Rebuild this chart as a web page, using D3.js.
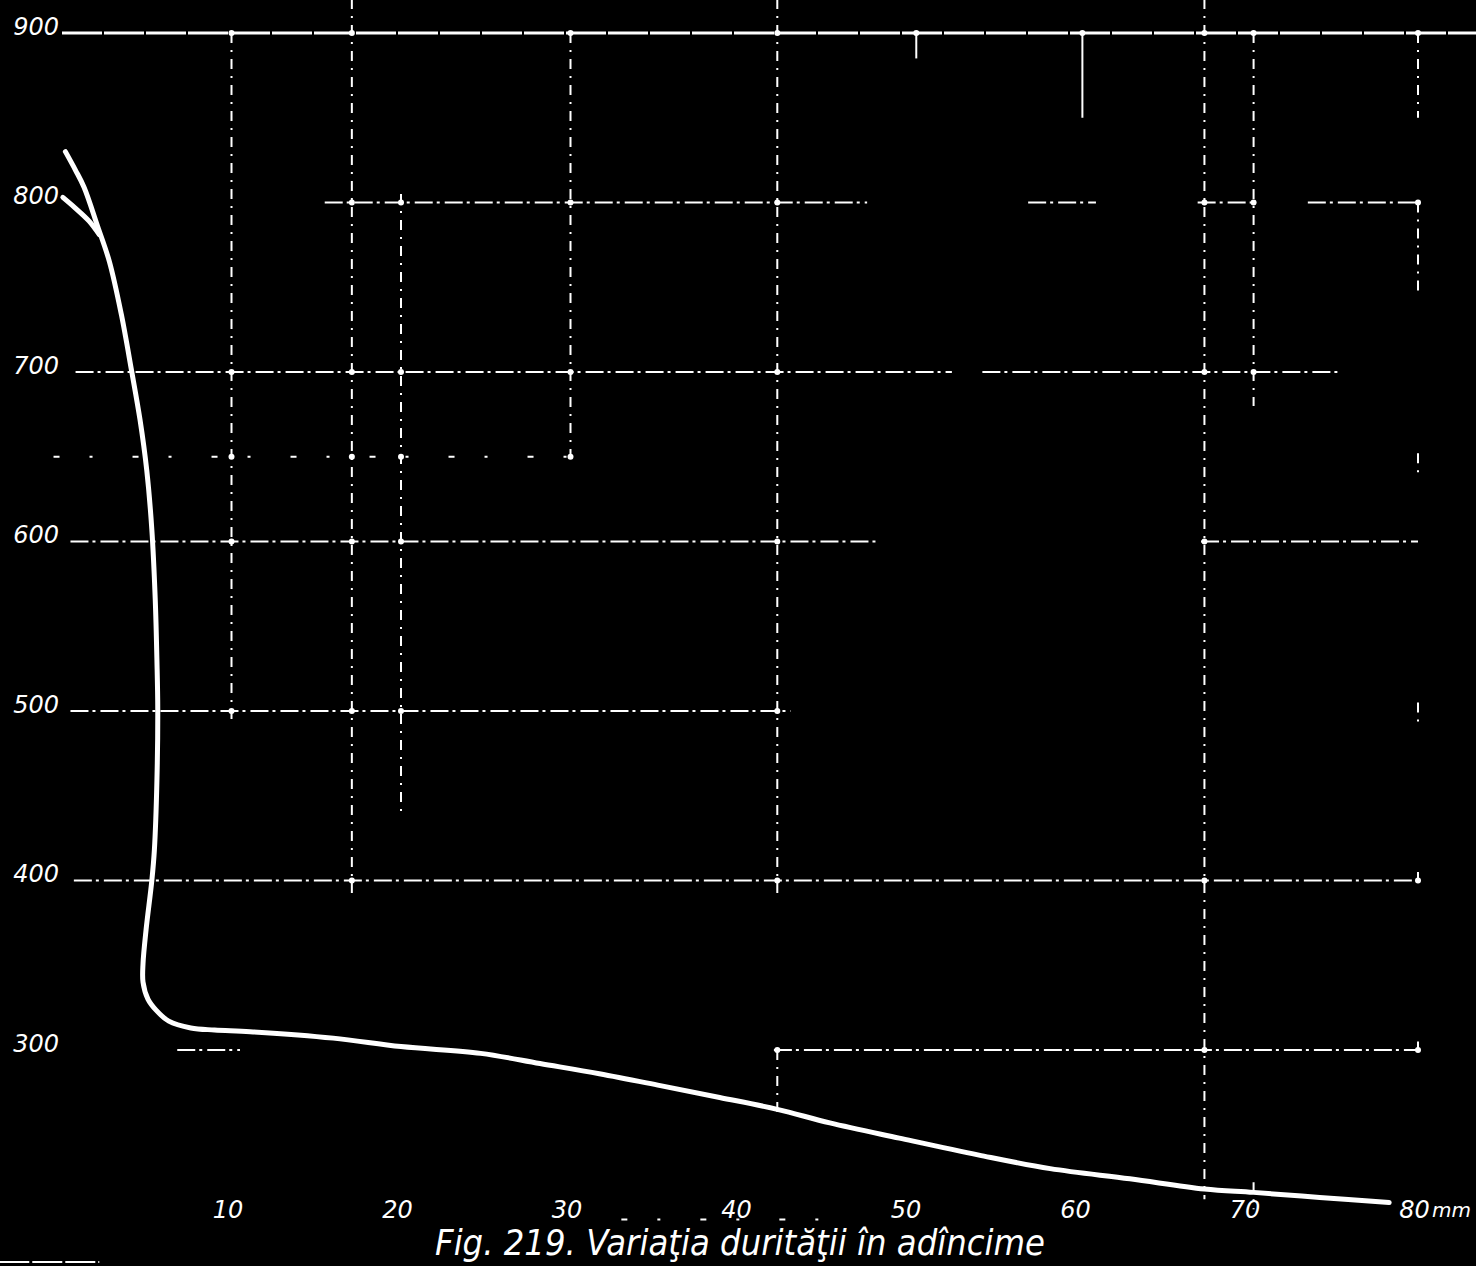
<!DOCTYPE html>
<html>
<head>
<meta charset="utf-8">
<script src="https://cdn.jsdelivr.net/npm/d3@7"></script>
<style>
  html, body { margin: 0; padding: 0; background: #000; }
  svg { display: block; }
  text { fill: #fff; font-family: "DejaVu Sans", sans-serif; font-style: italic; }
</style>
</head>
<body>
<svg id="chart" width="1476" height="1266"></svg>
<script>
// Depth below the surface (mm) and hardness along the main curve
const depthMain = [0.2, 0.8, 1.3, 2.1, 2.8, 3.5, 4.1, 4.6, 5.0, 5.3, 5.5, 5.6, 5.65, 5.6, 5.45, 5.3, 4.96, 4.78, 4.78, 5.07, 5.55, 6.3, 7.6, 9.0, 11.1, 16.0, 20.0, 24.7, 28.2, 31.7, 35.3, 38.8, 42.2, 45.3, 49.4, 54.1, 58.3, 63.0, 67.4, 70.3, 74.2, 78.3];
const hardMain  = [830, 819, 809, 786, 765, 734, 701, 672, 642, 607, 566, 530, 501, 459, 418, 400, 371, 351, 340, 330, 323.5, 317, 313, 311.8, 310.8, 307, 302, 298, 292, 286, 279, 272, 265, 257, 248, 238, 230, 224, 218, 216, 213, 210];

// Second surface branch that joins the main curve
const depthBranch = [0.05, 0.75, 1.6, 2.2];
const hardBranch  = [803, 797, 789, 781];

// Axis ticks
const xTicks = [10, 20, 30, 40, 50, 60, 70, 80];
const yTicks = [300, 400, 500, 600, 700, 800, 900];
const unitLabel = "mm";
const caption = "Fig. 219. Variaţia durităţii în adîncime";

// Grid rulings: hardness level and the depth spans where each is drawn
const hLevels = [900, 800, 700, 650, 600, 500, 400, 300, 200];
const hSpans = [
  [[0, 83.5]],
  [[15.5, 47.5], [57, 61], [67, 70.5], [73.5, 80]],
  [[0.8, 52.5], [54.3, 75.5]],
  [[-0.5, 30.5]],
  [[0.5, 48], [67.2, 80]],
  [[0.5, 43]],
  [[0.7, 80.3]],
  [[6.8, 10.5], [42, 80]],
  [[33, 45.5]]
];
// Vertical rulings: depth and the hardness spans where each is drawn
const vLevels = [10, 17.1, 20, 30, 42.2, 50.4, 60.2, 67.4, 70.3, 80];
const vSpans = [
  [[900, 495]],
  [[920, 392]],
  [[805, 440]],
  [[900, 645]],
  [[920, 390], [300, 262]],
  [[900, 885]],
  [[900, 850]],
  [[920, 212]],
  [[900, 680], [222, 206]],
  [[900, 850], [800, 745], [652, 640], [505, 490], [405, 395], [305, 295]]
];

const svg = d3.select("#chart");
svg.append("rect").attr("width", 1476).attr("height", 1266).attr("fill", "#000");

const x = d3.scaleLinear().domain([0, 80]).range([62, 1418]);
const y = d3.scaleLinear().domain([200, 900]).range([1219.5, 33]);

// Horizontal rulings
const grid = svg.append("g").attr("stroke", "#fff").attr("fill", "none");
hLevels.forEach((h, i) => {
  hSpans[i].forEach(s => {
    grid.append("line")
      .attr("x1", x(s[0])).attr("x2", x(s[1]))
      .attr("y1", y(h)).attr("y2", y(h))
      .attr("stroke-width", h === 900 ? 3 : 2)
      .attr("stroke-dasharray", h === 900 ? "40 2" : (h === 650 || h === 200) ? "6 30 3 40" : "18 4 3 5");
  });
});

// Vertical rulings
vLevels.forEach((v, i) => {
  vSpans[i].forEach(s => {
    grid.append("line")
      .attr("x1", x(v)).attr("x2", x(v))
      .attr("y1", y(s[0])).attr("y2", y(s[1]))
      .attr("stroke-width", 2)
      .attr("stroke-dasharray", (v === 60.2 || v === 50.4) ? null : "10 7 2 7");
  });
});

// Small dots where rulings cross
const inSpan = (val, spans) => spans.some(s => val >= Math.min(s[0], s[1]) && val <= Math.max(s[0], s[1]));
const crossings = [];
hLevels.forEach((h, i) => vLevels.forEach((v, j) => {
  if (inSpan(v, hSpans[i]) && inSpan(h, vSpans[j])) crossings.push([v, h]);
}));
svg.append("g").selectAll("circle").data(crossings).join("circle")
  .attr("cx", d => x(d[0])).attr("cy", d => y(d[1])).attr("r", 3).attr("fill", "#fff");

// Short frame stub at the lower left
svg.append("line")
  .attr("x1", x(-3.7)).attr("x2", x(2.2)).attr("y1", y(175)).attr("y2", y(175))
  .attr("stroke", "#fff").attr("stroke-width", 2).attr("stroke-dasharray", "30 3");

// Hardness curve
const line = d3.line().x(d => x(d[0])).y(d => y(d[1])).curve(d3.curveCatmullRom.alpha(0.5));
svg.append("path")
  .datum(depthMain.map((d, i) => [d, hardMain[i]]))
  .attr("d", line)
  .attr("fill", "none").attr("stroke", "#fff").attr("stroke-width", 5)
  .attr("stroke-linecap", "round").attr("stroke-linejoin", "round");
svg.append("path")
  .datum(depthBranch.map((d, i) => [d, hardBranch[i]]))
  .attr("d", line)
  .attr("fill", "none").attr("stroke", "#fff").attr("stroke-width", 5)
  .attr("stroke-linecap", "round");

// Axes (labels only)
const yAxis = svg.append("g")
  .attr("transform", `translate(${x(0)},0)`)
  .call(d3.axisLeft(y).tickValues(yTicks).tickSize(0).tickPadding(3));
yAxis.select(".domain").remove();
yAxis.selectAll("text")
  .attr("fill", "#fff").attr("font-size", 24).attr("font-family", "DejaVu Sans")
  .attr("font-style", "italic").attr("dy", "0.05em");

const xAxis = svg.append("g")
  .attr("transform", `translate(-4,${y(200) - 26})`)
  .call(d3.axisBottom(x).tickValues(xTicks).tickSize(0).tickPadding(0));
xAxis.select(".domain").remove();
xAxis.selectAll("text")
  .attr("fill", "#fff").attr("font-size", 24).attr("font-family", "DejaVu Sans")
  .attr("font-style", "italic").attr("dy", "1em");

// Unit after the last tick label
svg.append("text")
  .attr("x", x(80) + 14).attr("y", y(200) - 3)
  .attr("font-size", 20).text(unitLabel);

// Caption
svg.append("text")
  .attr("x", 435).attr("y", 1255)
  .attr("font-size", 36)
  .attr("textLength", 610).attr("lengthAdjust", "spacingAndGlyphs")
  .text(caption);
</script>
</body>
</html>
